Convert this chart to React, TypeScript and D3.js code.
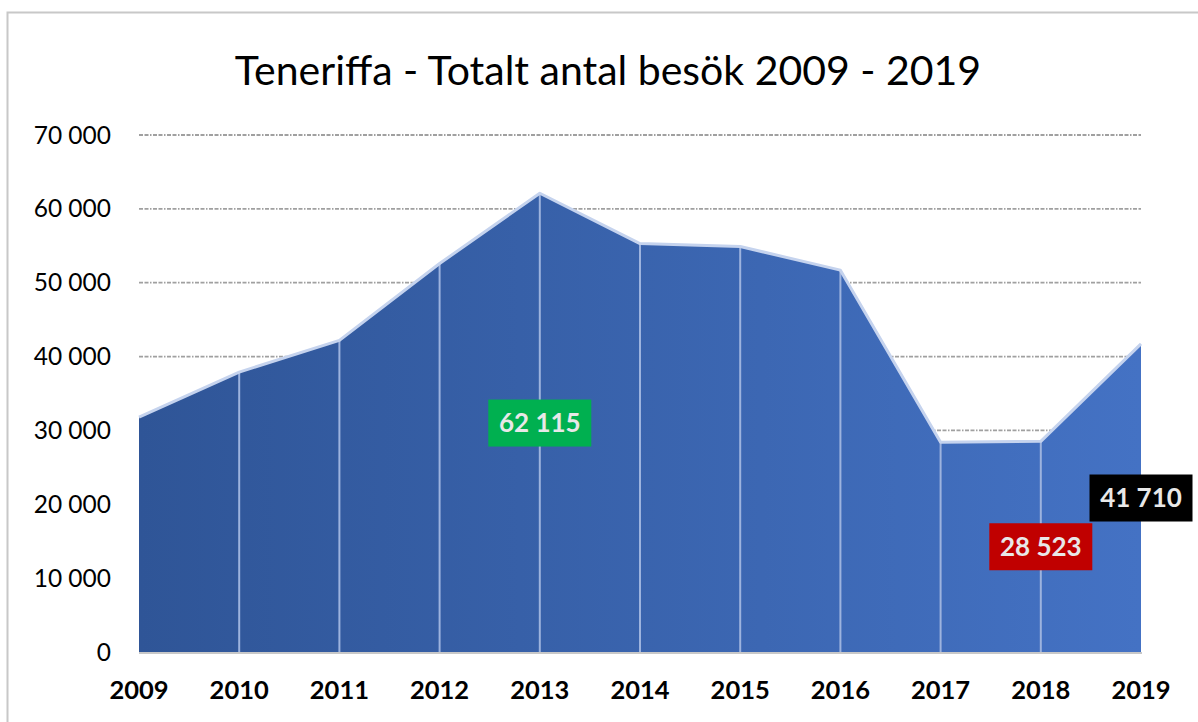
import React, { useEffect, useRef } from "react"
import * as d3 from "d3"

const years = ["2009", "2010", "2011", "2012", "2013", "2014", "2015", "2016", "2017", "2018", "2019"]
const visits = [31800, 37900, 42200, 52600, 62115, 55300, 54900, 51700, 28400, 28523, 41710]
const yTicks = [0, 10000, 20000, 30000, 40000, 50000, 60000, 70000]

// labelled points: index, box colour, vertical position in data units
const callouts = [
  { i: 4, fill: "#00B050", value: 31000 },
  { i: 9, fill: "#C00000", value: 14250 },
  { i: 10, fill: "#000000", value: 20850 },
]

const W = 1198
const H = 722

const App = () => {
  const ref = useRef<SVGSVGElement>(null)

  useEffect(() => {
    const svg = d3.select(ref.current)
    svg.selectAll("*").remove()

    const margins = { left: 139, right: W - 1141, top: 135, bottom: H - 652 }

    const x = d3.scalePoint<string>()
      .domain(years)
      .range([margins.left, W - margins.right])

    const y = d3.scaleLinear()
      .domain([0, 70000])
      .range([H - margins.bottom, margins.top])

    const fmt = (v: number) => d3.format(",")(v).replace(/,/g, " ")

    // outer frame
    svg.append("rect")
      .attr("x", 7.5).attr("y", 12.5)
      .attr("width", W + 10).attr("height", H + 10)
      .attr("fill", "white")
      .attr("stroke", "#c8c8c8").attr("stroke-width", 2)

    svg.append("text")
      .attr("x", 608).attr("y", 85)
      .attr("text-anchor", "middle")
      .style("font-family", "Lato, 'Open Sans', sans-serif")
      .style("font-size", "41px")
      .attr("fill", "#000")
      .text("Teneriffa - Totalt antal besök 2009 - 2019")

    // gridlines
    svg.append("g")
      .selectAll("line")
      .data(yTicks.filter(d => d > 0))
      .join("line")
      .attr("x1", x.range()[0]).attr("x2", x.range()[1])
      .attr("y1", d => y(d)).attr("y2", d => y(d))
      .attr("stroke", "#a0a0a0")
      .attr("stroke-width", 1.8)
      .attr("stroke-dasharray", "4 1.5 4 1.5 1.5 1.5")

    // y labels
    svg.append("g")
      .selectAll("text")
      .data(yTicks)
      .join("text")
      .attr("x", 111)
      .attr("y", d => y(d))
      .attr("dy", "0.35em")
      .attr("text-anchor", "end")
      .style("font-family", "Lato, sans-serif")
      .style("font-size", "24.5px")
      .attr("fill", "#000")
      .text(d => fmt(d))

    // gradient
    const defs = svg.append("defs")
    const grad = defs.append("linearGradient")
      .attr("id", "areaGrad")
      .attr("x1", "0%").attr("x2", "100%").attr("y1", "0%").attr("y2", "0%")
    grad.append("stop").attr("offset", "0%").attr("stop-color", "#2F5597")
    grad.append("stop").attr("offset", "100%").attr("stop-color", "#4472C4")

    const area = d3.area<number>()
      .x((_, i) => x(years[i]) as number)
      .y0(y(0))
      .y1(d => y(d))

    const line = d3.line<number>()
      .x((_, i) => x(years[i]) as number)
      .y(d => y(d))

    // baseline
    svg.append("line")
      .attr("x1", x.range()[0]).attr("x2", x.range()[1] + 1)
      .attr("y1", y(0) + 1).attr("y2", y(0) + 1)
      .attr("stroke", "#c8c8c8").attr("stroke-width", 2)

    svg.append("path")
      .datum(visits)
      .attr("d", area)
      .attr("fill", "url(#areaGrad)")

    // drop lines
    svg.append("g")
      .selectAll("line")
      .data(visits.slice(1, -1))
      .join("line")
      .attr("x1", (_, i) => x(years[i + 1]) as number)
      .attr("x2", (_, i) => x(years[i + 1]) as number)
      .attr("y1", d => y(d))
      .attr("y2", y(0))
      .attr("stroke", "#9db3de")
      .attr("stroke-width", 2)

    svg.append("path")
      .datum(visits)
      .attr("d", line)
      .attr("fill", "none")
      .attr("stroke", "#c5d3ee")
      .attr("stroke-width", 3)
      .attr("stroke-linejoin", "round")

    // x labels
    svg.append("g")
      .selectAll("text")
      .data(years)
      .join("text")
      .attr("x", d => x(d) as number)
      .attr("y", 699)
      .attr("text-anchor", "middle")
      .style("font-family", "Lato, sans-serif")
      .style("font-size", "25.5px")
      .style("font-weight", "bold")
      .attr("fill", "#000")
      .text(d => d)

    // data callouts
    const boxW = 103
    const boxH = 47
    const c = svg.append("g")
      .selectAll("g")
      .data(callouts)
      .join("g")
      .attr("transform", d => `translate(${x(years[d.i]) as number},${y(d.value)})`)
    c.append("rect")
      .attr("x", -boxW / 2).attr("y", -boxH / 2)
      .attr("width", boxW).attr("height", boxH)
      .attr("fill", d => d.fill)
    c.append("text")
      .attr("text-anchor", "middle")
      .attr("dy", "0.36em")
      .style("font-family", "Lato, sans-serif")
      .style("font-size", "26px")
      .style("font-weight", "bold")
      .attr("fill", "#e8e8e8")
      .text(d => fmt(visits[d.i]))
  }, [])

  return (
    <svg ref={ref} width={W} height={H}
      style={{ position: "absolute", left: 0, top: 0, display: "block" }} />
  )
}

export default App
